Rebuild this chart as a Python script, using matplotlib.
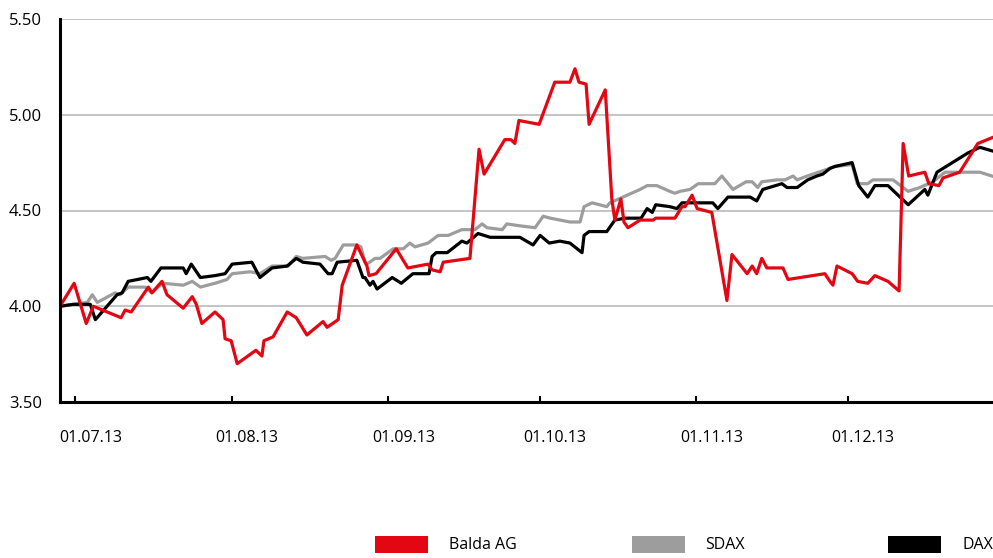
import matplotlib
matplotlib.use("Agg")
import matplotlib.pyplot as plt
from matplotlib.patches import Rectangle
from matplotlib.transforms import ScaledTranslation

plt.rcParams['font.family'] = ['Open Sans', 'DejaVu Sans']

# days counted from 01.07.2013
balda_days = [-3.0, -0.2, 2.2, 3.6, 9.1, 9.9, 11.1, 14.5, 15.2, 17.2, 18.2, 21.4, 23.2, 24.0, 25.1,
              27.7, 29.3, 29.7, 30.9, 32.1, 35.8, 37.0, 37.4, 39.2, 42.0, 43.8, 45.9, 49.1, 49.9,
              52.1, 52.9, 55.8, 57.8, 58.2, 59.6, 63.6, 65.9, 69.9, 70.7, 72.3, 72.9, 78.2, 80.0,
              81.0, 85.1, 86.3, 87.1, 87.9, 91.9, 95.0, 98.0, 99.0, 99.8, 101.2, 101.8, 105.0,
              106.3, 106.9, 108.1, 108.7, 109.5, 111.9, 114.5, 115.0, 117.8, 118.8, 120.2, 120.8,
              122.2, 123.2, 126.1, 129.1, 130.1, 133.1, 134.1, 135.0, 136.0, 137.0, 140.2, 141.2,
              148.5, 149.5, 150.1, 150.9, 153.9, 155.0, 157.0, 158.4, 161.0, 163.2, 164.0, 165.1,
              168.3, 169.1, 171.1, 171.9, 175.2, 178.8, 181.6]
balda_vals = [4.00, 4.12, 3.91, 4.00, 3.94, 3.98, 3.97, 4.10, 4.07, 4.13, 4.06, 3.99, 4.05, 4.01, 3.91,
              3.97, 3.93, 3.83, 3.82, 3.70, 3.77, 3.74, 3.82, 3.84, 3.97, 3.94, 3.85, 3.92, 3.89,
              3.93, 4.11, 4.32, 4.21, 4.16, 4.17, 4.30, 4.20, 4.22, 4.19, 4.18, 4.23, 4.25, 4.82,
              4.69, 4.87, 4.87, 4.85, 4.97, 4.95, 5.17, 5.17, 5.24, 5.17, 5.16, 4.95, 5.13,
              4.56, 4.45, 4.56, 4.44, 4.41, 4.45, 4.45, 4.46, 4.46, 4.46, 4.52, 4.52,
              4.58, 4.51, 4.49, 4.03, 4.27, 4.17, 4.21, 4.17, 4.25, 4.20, 4.20, 4.14,
              4.17, 4.13, 4.11, 4.21, 4.17, 4.13, 4.12, 4.16, 4.13, 4.08, 4.85, 4.68,
              4.70, 4.64, 4.63, 4.67, 4.70, 4.85, 4.88]

sdax_days = [-3.0, 2.4, 3.4, 4.4, 7.9, 8.9, 10.5, 13.9, 15.2, 16.4, 17.4, 21.4, 23.2, 24.8, 27.7,
             30.1, 31.1, 34.7, 36.6, 39.0, 42.2, 43.8, 45.1, 49.5, 50.7, 51.5, 53.1, 55.8, 56.6,
             57.4, 57.8, 59.4, 60.4, 63.0, 65.0, 66.3, 67.3, 69.9, 71.9, 73.9, 76.6, 79.2, 80.6,
             81.6, 84.6, 85.5, 88.1, 91.1, 92.7, 94.1, 98.0, 99.0, 100.0, 100.8, 102.4, 105.3,
             105.9, 108.5, 111.9, 113.3, 115.2, 117.8, 118.8, 119.8, 121.8, 123.4, 126.7, 128.1,
             130.3, 132.9, 134.1, 135.2, 136.0, 139.0, 140.6, 142.2, 143.0, 145.0, 149.5, 150.5,
             153.9, 154.9, 157.0, 158.0, 162.0, 165.0, 167.3, 169.9, 172.3, 175.2, 179.2, 181.6]
sdax_vals = [4.00, 4.02, 4.06, 4.02, 4.07, 4.06, 4.10, 4.10, 4.07, 4.10, 4.12, 4.11, 4.13, 4.10, 4.12,
             4.14, 4.17, 4.18, 4.17, 4.21, 4.21, 4.26, 4.25, 4.26, 4.24, 4.25, 4.32, 4.32, 4.31,
             4.23, 4.22, 4.25, 4.25, 4.30, 4.30, 4.33, 4.31, 4.33, 4.37, 4.37, 4.40, 4.40, 4.43,
             4.41, 4.40, 4.43, 4.42, 4.41, 4.47, 4.46, 4.44, 4.44, 4.44, 4.52, 4.54, 4.52,
             4.54, 4.57, 4.61, 4.63, 4.63, 4.60, 4.59, 4.60, 4.61, 4.64, 4.64, 4.68,
             4.61, 4.65, 4.65, 4.62, 4.65, 4.66, 4.66, 4.68, 4.66, 4.68, 4.72, 4.73,
             4.74, 4.64, 4.64, 4.66, 4.66, 4.60, 4.62, 4.65, 4.70, 4.70, 4.70, 4.68]

dax_days = [-3.0, -0.4, 3.0, 4.0, 8.3, 9.3, 10.5, 14.3, 15.0, 17.0, 21.4, 22.0, 23.0, 24.8, 27.7,
            29.7, 31.1, 35.0, 36.6, 39.0, 42.0, 43.8, 45.1, 48.5, 50.1, 50.9, 51.9, 55.8, 57.0,
            57.4, 58.4, 59.0, 59.8, 62.8, 64.6, 66.9, 70.1, 70.7, 71.5, 73.7, 76.6, 77.6, 79.8,
            82.2, 84.8, 88.1, 90.7, 92.1, 93.9, 96.0, 98.0, 100.4, 100.8, 101.8, 105.3, 106.9,
            108.9, 112.1, 113.3, 114.3, 115.0, 117.8, 119.2, 120.2, 123.2, 126.3, 127.3, 129.3,
            133.7, 135.0, 136.2, 140.0, 141.0, 143.0, 145.1, 146.9, 148.1, 149.5, 150.5, 153.9,
            155.2, 157.0, 158.4, 161.0, 163.8, 165.0, 168.3, 168.9, 170.7, 176.8, 179.2, 181.8]
dax_vals = [4.00, 4.01, 4.01, 3.93, 4.06, 4.07, 4.13, 4.15, 4.13, 4.20, 4.20, 4.17, 4.22, 4.15, 4.16,
            4.17, 4.22, 4.23, 4.15, 4.20, 4.21, 4.25, 4.23, 4.22, 4.17, 4.17, 4.23, 4.24, 4.15,
            4.15, 4.11, 4.13, 4.09, 4.15, 4.12, 4.17, 4.17, 4.26, 4.28, 4.28, 4.34, 4.33, 4.38,
            4.36, 4.36, 4.36, 4.32, 4.37, 4.33, 4.34, 4.33, 4.28, 4.37, 4.39, 4.39, 4.45,
            4.46, 4.46, 4.51, 4.49, 4.53, 4.52, 4.51, 4.54, 4.54, 4.54, 4.51, 4.57,
            4.57, 4.55, 4.61, 4.64, 4.62, 4.62, 4.66, 4.68, 4.69, 4.72, 4.73, 4.75,
            4.63, 4.57, 4.63, 4.63, 4.56, 4.53, 4.61, 4.58, 4.70, 4.80, 4.83, 4.81]

tick_days = [0, 31, 62, 92, 123, 153]
tick_labels = ['01.07.13', '01.08.13', '01.09.13', '01.10.13', '01.11.13', '01.12.13']
y_ticks = [3.5, 4.0, 4.5, 5.0, 5.5]

red = '#e30613'
gray = '#9d9d9d'
black = '#000000'

fig = plt.figure(figsize=(9.93, 5.58), dpi=100)
ax = fig.add_axes([60/993, 156/558, 933/993, 383/558])

for y in y_ticks[1:]:
    ax.axhline(y, color='#b4b4b4', linewidth=1.1, zorder=1)

ax.plot(sdax_days, sdax_vals, color=gray, linewidth=2.3, zorder=2)
ax.plot(dax_days, dax_vals, color=black, linewidth=2.3, zorder=3)
ax.plot(balda_days, balda_vals, color=red, linewidth=2.3, zorder=4)

ax.set_xlim(-3, 181.8)
ax.set_ylim(3.5, 5.5)
ax.set_yticks(y_ticks)
ax.set_yticklabels(['%.2f' % v for v in y_ticks])
ax.set_xticks(tick_days)
ax.set_xticklabels(tick_labels)

for side in ['top', 'right']:
    ax.spines[side].set_visible(False)
for side in ['left', 'bottom']:
    ax.spines[side].set_linewidth(2.2)
    ax.spines[side].set_color('black')
    ax.spines[side].set_zorder(5)

ax.tick_params(axis='y', length=0, pad=13, labelsize=12)
ax.tick_params(axis='x', direction='in', length=4.5, width=1.5, pad=20, labelsize=11.5)
shift = ScaledTranslation(0.155, 0, fig.dpi_scale_trans)
for lab in ax.get_xticklabels():
    lab.set_transform(lab.get_transform() + shift)

# legend
names = ['Balda AG', 'SDAX', 'DAX']
colors = [red, gray, black]
for i, (name, col) in enumerate(zip(names, colors)):
    x0 = 375 + i * 256.5
    fig.patches.append(Rectangle((x0/993, 5/558), 53/993, 17/558, transform=fig.transFigure,
                                 facecolor=col, edgecolor='none'))
    fig.text((x0 + 74)/993, 13/558, name, fontsize=11.5, va='center', ha='left')

fig.savefig('out.png', dpi=100)
